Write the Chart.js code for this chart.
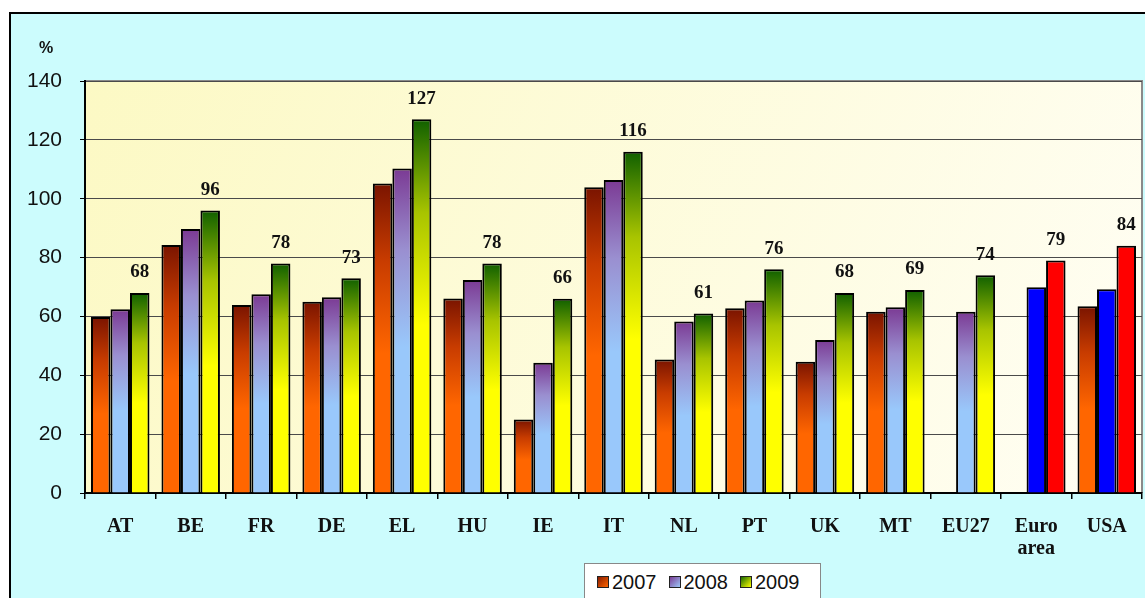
<!DOCTYPE html>
<html>
<head>
<meta charset="utf-8">
<script src="https://cdn.jsdelivr.net/npm/chart.js@4/dist/chart.umd.min.js"></script>
<style>
html, body { margin: 0; padding: 0; background: #fff; overflow: hidden; }
#frame {
  position: absolute; left: 9px; top: 12px; width: 1200px; height: 700px;
  border: 2px solid #000; background: #ccfcfd; box-sizing: border-box;
}
#wrap { position: absolute; left: 0; top: 0; width: 1145px; height: 598px; }
#pct {
  position: absolute; left: 39px; top: 39px;
  font: bold 16px "Liberation Sans", Arial, sans-serif; color: #111;
}
#legend {
  position: absolute; left: 584px; top: 563px; width: 237px; height: 40px;
  background: #fff; border: 1px solid #888; box-sizing: border-box;
  font: 20px "Liberation Sans", Arial, sans-serif; color: #111;
  display: flex; align-items: flex-start; padding: 6px 0 0 12px;
}
#legend .item { display: flex; align-items: center; margin-right: 12px; height: 24px; }
#legend .sw { width: 10px; height: 10px; border: 1px solid #222; margin-right: 3px; }
</style>
</head>
<body>
<div id="frame"></div>
<div id="wrap"><canvas id="myChart" width="1145" height="598"></canvas></div>
<div id="pct">%</div>
<div id="legend">
  <div class="item"><span class="sw" style="background:linear-gradient(135deg,#8a1c00,#ff6600)"></span>2007</div>
  <div class="item"><span class="sw" style="background:linear-gradient(135deg,#7a3d96,#9cc8f8)"></span>2008</div>
  <div class="item"><span class="sw" style="background:linear-gradient(135deg,#1a6a00,#ffff00)"></span>2009</div>
</div>
<script>
const categories = ['AT', 'BE', 'FR', 'DE', 'EL', 'HU', 'IE', 'IT', 'NL', 'PT', 'UK', 'MT', 'EU27', ['Euro', 'area'], 'USA'];
const years = ['2007', '2008', '2009'];

// values (% of GDP)
const v2007 = [59.8, 84.3, 63.9, 65.0, 105.2, 66.1, 25.0, 103.9, 45.4, 62.8, 44.6, 61.6, null, null, 63.5];
const v2008 = [62.4, 89.7, 67.5, 66.5, 110.3, 72.4, 44.3, 106.4, 58.3, 65.4, 52.0, 63.1, 61.6, 69.9, 69.2];
const v2009 = [68, 96, 78, 73, 127, 78, 66, 116, 61, 76, 68, 69, 74, 79, 84];
const yTicks = [0, 20, 40, 60, 80, 100, 120, 140];

// the last two groups use plain blue / red for 2008 and 2009
const specialGroups = [13, 14];

const stops = {
  '2007': ['#7a1400', '#c83c00', '#ff6600'],
  '2008': ['#7b3a94', '#9a8fd0', '#99c8fb'],
  '2009': ['#106000', '#a8c400', '#ffff00']
};

function barFill(year, solid) {
  return function(ctx) {
    if (ctx.type !== 'data') return stops[year][2];
    if (solid && specialGroups.includes(ctx.dataIndex)) return solid;
    const chart = ctx.chart;
    if (!chart.chartArea || ctx.raw == null) return stops[year][2];
    const ys = chart.scales.y;
    const top = ys.getPixelForValue(ctx.raw);
    const base = ys.getPixelForValue(0);
    const g = chart.ctx.createLinearGradient(0, top, 0, base);
    g.addColorStop(0, stops[year][0]);
    g.addColorStop(0.25, stops[year][1]);
    g.addColorStop(0.55, stops[year][2]);
    g.addColorStop(1, stops[year][2]);
    return g;
  };
}

const plotBg = {
  id: 'plotBg',
  beforeDraw(chart) {
    const {ctx, chartArea: a} = chart;
    const g = ctx.createLinearGradient(a.left, a.top, a.right, a.bottom);
    g.addColorStop(0, '#fcf9c4');
    g.addColorStop(1, '#fffef4');
    ctx.save();
    ctx.fillStyle = g;
    ctx.fillRect(a.left, a.top, a.right - a.left, a.bottom - a.top);
    ctx.strokeStyle = '#8a8a8a';
    ctx.lineWidth = 2;
    ctx.beginPath();
    ctx.moveTo(a.left, a.top);
    ctx.lineTo(a.right, a.top);
    ctx.lineTo(a.right, a.bottom);
    ctx.stroke();
    ctx.restore();
  }
};

const topLabels = {
  id: 'topLabels',
  afterDatasetsDraw(chart) {
    const ctx = chart.ctx;
    const meta = chart.getDatasetMeta(2);
    ctx.save();
    ctx.font = 'bold 19px "Liberation Serif", "Times New Roman", serif';
    ctx.fillStyle = '#111';
    ctx.textAlign = 'center';
    ctx.textBaseline = 'bottom';
    meta.data.forEach((bar, i) => {
      ctx.fillText(String(v2009[i]), bar.x, bar.y - 11);
    });
    ctx.restore();
  }
};

new Chart(document.getElementById('myChart'), {
  type: 'bar',
  data: {
    labels: categories,
    datasets: [
      {label: years[0], data: v2007, backgroundColor: barFill('2007')},
      {label: years[1], data: v2008, backgroundColor: barFill('2008', '#0000ff')},
      {label: years[2], data: v2009, backgroundColor: barFill('2009', '#ff0000')}
    ]
  },
  options: {
    responsive: false,
    animation: false,
    events: [],
    layout: {padding: {left: 0, top: 81, right: 3, bottom: 0}},
    datasets: {
      bar: {
        borderColor: '#000',
        borderWidth: 2,
        categoryPercentage: 0.83,
        barPercentage: 1,
        skipNull: false
      }
    },
    plugins: {
      legend: {display: false},
      tooltip: {enabled: false}
    },
    scales: {
      x: {
        afterFit(scale) { scale.height = 105; },
        grid: {display: true, drawOnChartArea: false, color: '#000', tickLength: 6, lineWidth: 1.5},
        border: {color: '#000', width: 2},
        ticks: {
          color: '#111',
          padding: 17,
          maxRotation: 0,
          autoSkip: false,
          font: {family: '"Liberation Serif", "Times New Roman", serif', size: 20, weight: 'bold', lineHeight: 1.1}
        }
      },
      y: {
        min: 0,
        max: 140,
        afterFit(scale) { scale.width = 85; },
        afterBuildTicks(scale) { scale.ticks = yTicks.map(v => ({value: v})); },
        grid: {color: '#4a4a4a', lineWidth: 1, tickLength: 5, tickColor: '#000'},
        border: {color: '#000', width: 2},
        ticks: {
          color: '#111',
          padding: 18,
          font: {family: '"Liberation Sans", Arial, sans-serif', size: 21}
        }
      }
    }
  },
  plugins: [plotBg, topLabels]
});
</script>
</body>
</html>
